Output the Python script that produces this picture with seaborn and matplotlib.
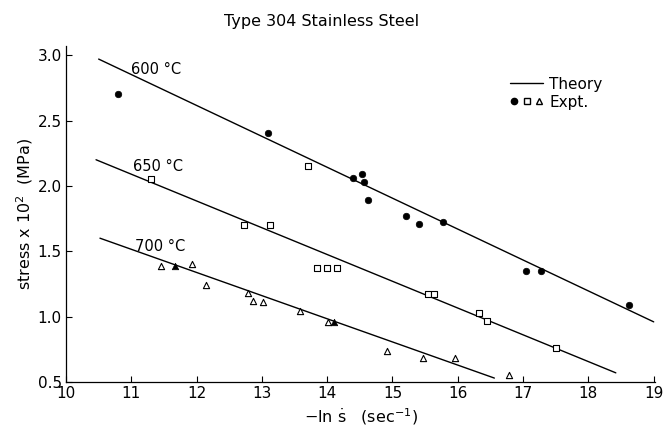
import numpy as np
import pandas as pd
import matplotlib
matplotlib.use("Agg")
import matplotlib.pyplot as plt
import seaborn as sns
from matplotlib.lines import Line2D
from matplotlib.legend_handler import HandlerTuple

sns.set_theme(style="ticks")
plt.rcParams["font.family"] = ["DejaVu Sans"]
plt.rcParams["text.color"] = "black"
plt.rcParams["axes.labelcolor"] = "black"
plt.rcParams["xtick.color"] = "black"
plt.rcParams["ytick.color"] = "black"

# Theory lines: end points (-ln strain rate, stress x 10^2 MPa)
theory_x_600 = [10.5, 19.0]
theory_y_600 = [2.97, 0.96]
theory_x_650 = [10.46, 18.42]
theory_y_650 = [2.20, 0.57]
theory_x_700 = [10.52, 16.56]
theory_y_700 = [1.60, 0.53]

# Experimental points, 600 C (filled circles)
expt_x_600 = [10.8, 13.09, 14.39, 14.53, 14.57, 14.62, 15.21, 15.41, 15.78, 17.05, 17.28, 18.62]
expt_y_600 = [2.70, 2.405, 2.06, 2.09, 2.03, 1.89, 1.77, 1.71, 1.72, 1.35, 1.35, 1.09]

# Experimental points, 650 C (open squares)
expt_x_650 = [11.30, 13.70, 12.72, 13.13, 13.85, 14.0, 14.15, 15.54, 15.64, 16.32, 16.44, 17.51]
expt_y_650 = [2.05, 2.15, 1.70, 1.70, 1.37, 1.37, 1.37, 1.17, 1.17, 1.03, 0.97, 0.76]

# Experimental points, 700 C (open triangles)
expt_x_700 = [11.45, 11.93, 12.14, 12.78, 12.86, 13.01, 13.58, 14.01, 14.92, 15.46, 15.95, 16.79]
expt_y_700 = [1.39, 1.40, 1.24, 1.18, 1.12, 1.11, 1.04, 0.96, 0.74, 0.68, 0.68, 0.55]
# 700 C points drawn filled
expt_x_700f = [11.67, 14.10]
expt_y_700f = [1.39, 0.96]

x_ticks = [10, 11, 12, 13, 14, 15, 16, 17, 18, 19]
y_ticks = [0.5, 1.0, 1.5, 2.0, 2.5, 3.0]
y_tick_labels = ["0.5", "1.0", "1.5", "2.0", "2.5", "3.0"]

fig = plt.figure(figsize=(6.64, 4.28), dpi=100)
ax = fig.add_axes([66 / 664, 1 - 382 / 428, (655 - 66) / 664, (382 - 46) / 428])

for tx, ty in [(theory_x_600, theory_y_600), (theory_x_650, theory_y_650), (theory_x_700, theory_y_700)]:
    sns.lineplot(x=tx, y=ty, ax=ax, color="black", linewidth=1.0, estimator=None, sort=False)

sns.scatterplot(x=expt_x_600, y=expt_y_600, ax=ax, marker="o", s=22,
                color="black", edgecolor="black", linewidth=0.5, zorder=3)
sns.scatterplot(x=expt_x_650, y=expt_y_650, ax=ax, marker="s", s=20,
                facecolor="white", edgecolor="black", linewidth=0.8, zorder=3)
sns.scatterplot(x=expt_x_700, y=expt_y_700, ax=ax, marker="^", s=20,
                facecolor="white", edgecolor="black", linewidth=0.8, zorder=3)
sns.scatterplot(x=expt_x_700f, y=expt_y_700f, ax=ax, marker="^", s=22,
                color="black", edgecolor="black", linewidth=0.5, zorder=3)

ax.text(11.0, 2.89, "600 °C", fontsize=10.5, va="center", ha="left")
ax.text(11.02, 2.15, "650 °C", fontsize=10.5, va="center", ha="left")
ax.text(11.05, 1.54, "700 °C", fontsize=10.5, va="center", ha="left")

ax.set_xlim(10, 19.02)
ax.set_ylim(0.5, 3.07)
ax.set_xticks(x_ticks)
ax.set_xticklabels([str(t) for t in x_ticks])
ax.set_yticks(y_ticks)
ax.set_yticklabels(y_tick_labels)
ax.tick_params(direction="in", length=4, width=0.8, labelsize=11, colors="black", pad=3)
for side in ["top", "right"]:
    ax.spines[side].set_visible(False)
for side in ["left", "bottom"]:
    ax.spines[side].set_color("black")
    ax.spines[side].set_linewidth(0.9)

ax.set_xlabel(r"$-$ln $\dot{\rm s}$   (sec$^{-1}$)", fontsize=11.5, labelpad=4)
ax.set_ylabel(r"stress x 10$^{2}$  (MPa)", fontsize=11.5, labelpad=2)

handles = [
    Line2D([], [], color="black", linewidth=1.0),
    (Line2D([], [], marker="o", color="black", linestyle="none", markersize=4.5),
     Line2D([], [], marker="s", markerfacecolor="white", markeredgecolor="black",
            linestyle="none", markersize=4),
     Line2D([], [], marker="^", markerfacecolor="white", markeredgecolor="black",
            linestyle="none", markersize=4)),
]
ax.legend(handles, ["Theory", "Expt."], loc="upper left", bbox_to_anchor=(0.73, 0.95),
          frameon=False, fontsize=11, handlelength=2.2, handletextpad=0.4,
          labelspacing=0.2, handler_map={tuple: HandlerTuple(ndivide=None, pad=0.2)})

fig.text(0.485, 0.95, "Type 304 Stainless Steel", fontsize=11.5, ha="center", va="center")

fig.savefig("out.png", dpi=100, facecolor="white")
